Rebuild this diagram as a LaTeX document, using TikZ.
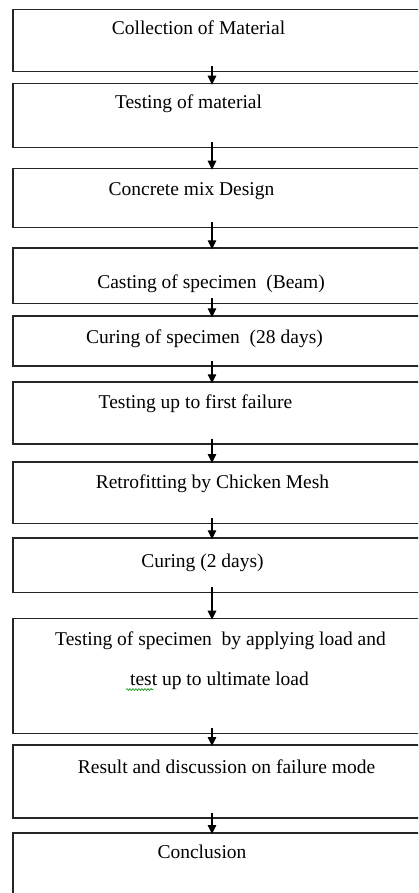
\documentclass[tikz,border=0pt]{standalone}
\usepackage{fontspec}
\setmainfont{Liberation Serif}
\usetikzlibrary{arrows.meta,decorations.pathmorphing}
\begin{document}
\begin{tikzpicture}[x=1pt,y=-1pt,
    stage/.style={draw=black!85,line width=1.5pt,anchor=north west,minimum width=430pt,inner sep=0pt},
    caption/.style={anchor=base,inner sep=0pt,font=\fontsize{19.5}{23}\selectfont},
    flow/.style={line width=1.2pt,-{Triangle[length=9pt,width=8.5pt]},shorten <=-6pt,shorten >=-2pt}]
  \useasboundingbox (0,0) rectangle (418,893);
  \clip (0,0) rectangle (418,893);
  \coordinate (axis) at (212,0);
  \node[stage,minimum height=61.7pt] (b1) at (12,9) {};
  \node[stage,minimum height=64pt] (b2) at (12,82.7) {};
  \node[stage,minimum height=59.3pt] (b3) at (12,167.7) {};
  \node[stage,minimum height=55.4pt] (b4) at (12,247.3) {};
  \node[stage,minimum height=50pt] (b5) at (12,315.3) {};
  \node[stage,minimum height=62pt] (b6) at (12,381.3) {};
  \node[stage,minimum height=61.7pt] (b7) at (12,461) {};
  \node[stage,minimum height=54.4pt] (b8) at (12,537.3) {};
  \node[stage,minimum height=115pt] (b9) at (12,617.7) {};
  \node[stage,minimum height=73.3pt] (b10) at (12,744) {};
  \node[stage,minimum height=100pt] (b11) at (12,832) {};
  \node[caption] (t1) at (198.5,35) {Collection of Material};
  \node[caption] (t2) at (188.5,109) {Testing of material};
  \node[caption] (t3) at (191.5,196) {Concrete\ mix Design};
  \node[caption] (t4) at (211,288) {Casting of specimen\ \ (Beam)};
  \node[caption] (t5) at (204.5,343) {Curing of specimen\ \ (28 days)};
  \node[caption] (t6) at (195.5,408) {Testing up to first failure};
  \node[caption] (t7) at (212.5,488) {Retrofitting by Chicken Mesh};
  \node[caption] (t8) at (202.5,567) {Curing (2 days)};
  \node[caption] (t9a) at (220.5,645) {Testing of specimen\ \ by applying load and};
  \node[caption] (t9b) at (219.5,685) {test up to ultimate load};
  \node[caption] (t10) at (226.5,773) {Result and discussion on failure mode};
  \node[caption] (t11) at (202,858) {Conclusion};
  \draw[green!55!black,line width=0.6pt,decorate,decoration={snake,amplitude=0.9pt,segment length=3pt}]
    (126,689.5) -- (153,689.5);
  \foreach \a/\b in {b1/b2,b2/b3,b3/b4,b4/b5,b5/b6,b6/b7,b7/b8,b8/b9,b9/b10,b10/b11}
    \draw[flow] (\a.south -| axis) -- (\b.north -| axis);
\end{tikzpicture}
\end{document}
